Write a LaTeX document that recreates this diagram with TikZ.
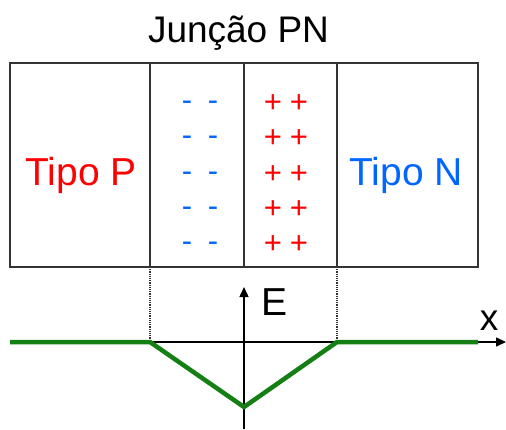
\documentclass[tikz,border=0pt]{standalone}
\usepackage{fontspec}
\setmainfont{Liberation Sans}
\usetikzlibrary{positioning,arrows.meta}

\definecolor{pcolor}{RGB}{255,0,0}
\definecolor{ncolor}{RGB}{0,102,255}
\definecolor{fieldgreen}{RGB}{20,128,20}

\begin{document}
\begin{tikzpicture}[
		x=1pt, y=-1pt,
		region/.style={draw=black!80, line width=1.2pt, minimum height=204pt, inner sep=0pt, outer sep=0pt},
		sign/.style={anchor=base, inner sep=0pt, font=\fontsize{31}{31}\selectfont},
		axis/.style={black, line width=1.5pt},
		field/.style={fieldgreen, line width=4.5pt, line join=miter}
		]
		\useasboundingbox (0,0) rectangle (506,429);
		
		% ---------------------------------------------------------
		% Title
		% ---------------------------------------------------------
		\node[anchor=base, font=\fontsize{37}{40}\selectfont] (title) at (238.5,42) {Junção PN};
		
		% ---------------------------------------------------------
		% The four zones of the junction
		% ---------------------------------------------------------
		\node[region, minimum width=140pt, anchor=north west] (pside) at (10,63) {};
		\node[region, minimum width=94pt, right=0pt of pside] (negzone) {};
		\node[region, minimum width=93pt, right=0pt of negzone] (poszone) {};
		\node[region, minimum width=141pt, right=0pt of poszone] (nside) {};
		
		\node[pcolor, anchor=base, font=\fontsize{39}{40}\selectfont] (plabel) at (81,185) {Tipo P};
		\node[ncolor, anchor=base, font=\fontsize{39}{40}\selectfont] (nlabel) at (406,185) {Tipo N};
		
		% Charges in the depletion zone
		\foreach \y [count=\i] in {102,137,173,208,243} {
			\node[sign, ncolor] (m\i a) at (187,\y+8) {-};
			\node[sign, ncolor] (m\i b) at (213,\y+8) {-};
			\node[sign, pcolor] (p\i a) at (273,\y+10.5) {+};
			\node[sign, pcolor] (p\i b) at (299,\y+10.5) {+};
		}
		
		% ---------------------------------------------------------
		% Axes
		% ---------------------------------------------------------
		\coordinate (xstart) at (10,342);
		\coordinate (xend) at (506,342);
		\coordinate (ebottom) at (244,429);
		\coordinate (etop) at (244,287);
		\coordinate (dleft) at (150,342);
		\coordinate (dright) at (337,342);
		\coordinate (vmin) at (244,407);
		\coordinate (gend) at (478,342);
		
		\draw[axis, -{Triangle[length=10pt,width=9pt]}] (xstart) -- (xend);
		\draw[axis, -{Triangle[length=10pt,width=9pt]}] (ebottom) -- (etop);
		\node[anchor=base, font=\fontsize{39}{40}\selectfont] (elabel) at (275,315) {E};
		\node[anchor=base, font=\fontsize{37}{40}\selectfont] (xlabel) at (489,330) {x};
		
		% Dotted edges of the depletion zone
		\draw[black!80, line width=1.2pt, densely dotted] (negzone.south west) -- (dleft);
		\draw[black!80, line width=1.2pt, densely dotted] (poszone.south east) -- (dright);
		
		% ---------------------------------------------------------
		% Electric field
		% ---------------------------------------------------------
		\draw[field] (xstart) -- (dleft) -- (vmin) -- (dright) -- (gend);
		
	\end{tikzpicture}
\end{document}
